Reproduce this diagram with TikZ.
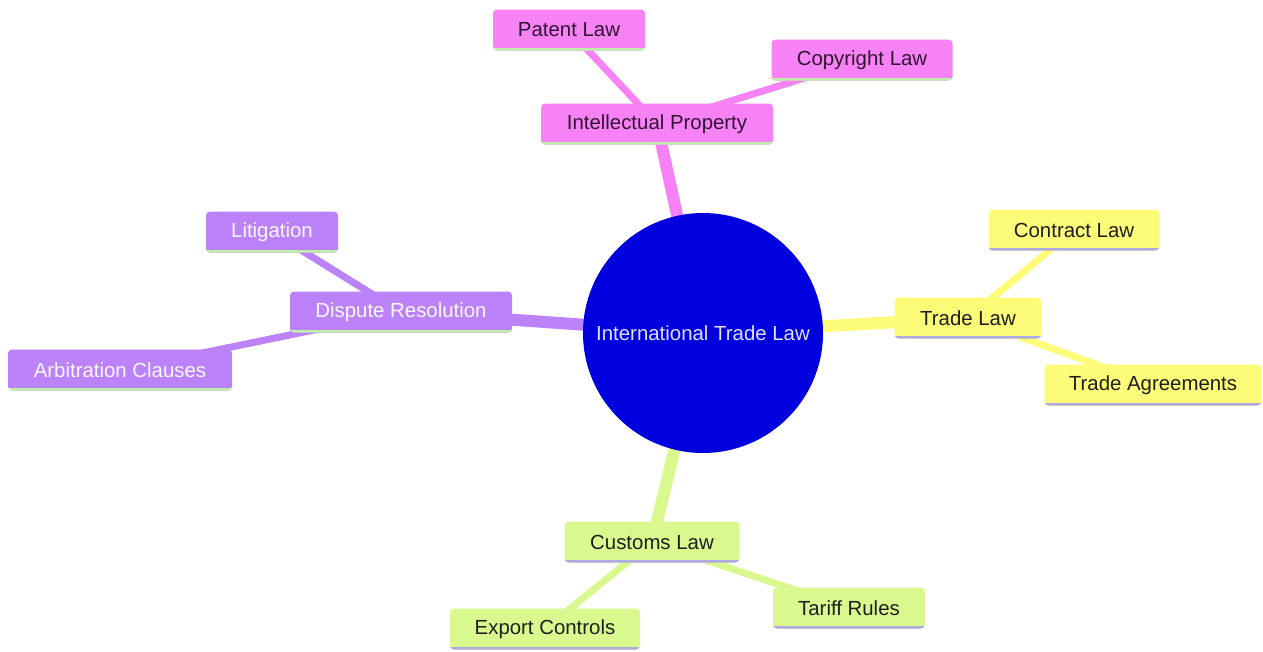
\documentclass[tikz,border=0pt]{standalone}
\usepackage{fontspec}
\setmainfont{Liberation Sans}
\usetikzlibrary{backgrounds}
\definecolor{pinkc}{RGB}{246,130,246}
\definecolor{purc}{RGB}{188,130,250}
\definecolor{yelc}{RGB}{252,252,120}
\definecolor{grnc}{RGB}{217,249,142}
\definecolor{bluec}{RGB}{0,0,222}
\definecolor{ulgreen}{RGB}{190,240,170}
\definecolor{ullav}{RGB}{175,170,225}
\definecolor{pinktxt}{RGB}{50,20,50}
\definecolor{darktxt}{RGB}{30,30,30}
\tikzset{
  box/.style={rectangle, rounded corners=4pt, minimum height=41pt, inner sep=0pt,
    font=\fontsize{20.4}{24}\selectfont},
  ul/.style={path picture={\draw[line width=6pt,#1]
    (path picture bounding box.south west) -- (path picture bounding box.south east);}},
  pinkbox/.style={box, fill=pinkc, text=pinktxt, ul=ulgreen},
  purbox/.style={box, fill=purc, text=white!94!purc, ul=ulgreen},
  yelbox/.style={box, fill=yelc, text=darktxt, ul=ullav},
  grnbox/.style={box, fill=grnc, text=darktxt, ul=ullav},
  lvone/.style={line width=12pt},
  lvtwo/.style={line width=7pt},
}
\begin{document}
\begin{tikzpicture}[x=1pt,y=-1pt]
\useasboundingbox (0,0) rectangle (1263,651);
\node[circle, fill=bluec, minimum size=240pt, inner sep=0pt, text=white!88!blue,
  font=\fontsize{20.4}{24}\selectfont] (root) at (703,333) {International Trade Law};
% level 1
\node[pinkbox, minimum width=232pt] (ip) at (657,124) {Intellectual Property};
\node[yelbox, minimum width=147pt] (trade) at (968,318) {Trade Law};
\node[purbox, minimum width=222pt] (disp) at (401,312) {Dispute Resolution};
\node[grnbox, minimum width=175pt] (cust) at (652,542) {Customs Law};
% level 2
\node[pinkbox, minimum width=152pt] (patent) at (569,30) {Patent Law};
\node[pinkbox, minimum width=181pt] (copy) at (862,60) {Copyright Law};
\node[yelbox, minimum width=171pt] (contract) at (1074,230) {Contract Law};
\node[yelbox, minimum width=217pt] (agree) at (1153,385) {Trade Agreements};
\node[purbox, minimum width=132pt] (litig) at (272,232) {Litigation};
\node[purbox, minimum width=224pt] (arb) at (120,370) {Arbitration Clauses};
\node[grnbox, minimum width=190pt] (export) at (545,629) {Export Controls};
\node[grnbox, minimum width=152pt] (tariff) at (849,608) {Tariff Rules};
\begin{scope}[on background layer]
\fill[white] (0,0) rectangle (1263,651);
\draw[lvone, pinkc] (root.center) -- (ip.center);
\draw[lvone, yelc] (root.center) -- (trade.center);
\draw[lvone, purc] (root.center) -- (disp.center);
\draw[lvone, grnc] (root.center) -- (cust.center);
\draw[lvtwo, pinkc] (ip.center) -- (patent.center);
\draw[lvtwo, pinkc] (ip.center) -- (copy.center);
\draw[lvtwo, yelc] (trade.center) -- (contract.center);
\draw[lvtwo, yelc] (trade.center) -- (agree.center);
\draw[lvtwo, purc] (disp.center) -- (litig.center);
\draw[lvtwo, purc] (disp.center) -- (arb.center);
\draw[lvtwo, grnc] (cust.center) -- (export.center);
\draw[lvtwo, grnc] (cust.center) -- (tariff.center);
\end{scope}
\end{tikzpicture}
\end{document}
